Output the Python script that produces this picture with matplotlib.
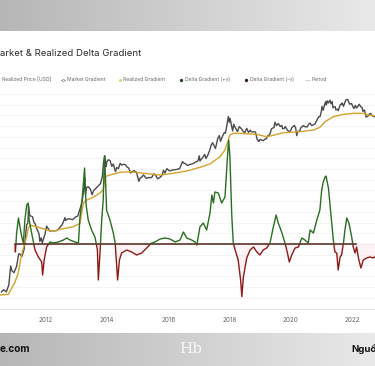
import numpy as np
import pandas as pd
import matplotlib
matplotlib.use("Agg")
import matplotlib.pyplot as plt
from matplotlib.patches import Rectangle
from matplotlib.colors import LinearSegmentedColormap

plt.rcParams['font.family'] = ['Inter', 'DejaVu Sans']

# ---------------- data ----------------
market_dates = [
    "2010-07-18", "2010-08-15", "2010-09-15", "2010-10-15", "2010-11-06", "2010-11-20", "2010-12-15",
    "2011-01-15", "2011-02-10", "2011-03-01", "2011-03-20", "2011-04-15", "2011-05-01", "2011-05-15", "2011-05-30",
    "2011-06-08", "2011-06-20", "2011-07-10", "2011-07-25", "2011-08-10", "2011-08-25", "2011-09-10", "2011-09-25",
    "2011-10-10", "2011-10-20", "2011-11-05", "2011-11-18", "2011-12-05", "2011-12-20",
    "2012-01-08", "2012-01-25", "2012-02-15", "2012-03-15", "2012-04-15", "2012-05-15", "2012-06-15", "2012-07-15",
    "2012-08-15", "2012-08-20", "2012-09-15", "2012-10-15", "2012-11-15", "2012-12-15",
    "2013-01-15", "2013-02-01", "2013-02-20", "2013-03-10", "2013-03-25", "2013-04-09", "2013-04-16", "2013-05-01",
    "2013-05-20", "2013-06-15", "2013-07-05", "2013-07-25", "2013-08-15", "2013-09-15", "2013-10-15", "2013-11-05",
    "2013-11-18", "2013-12-04", "2013-12-18", "2013-12-28",
    "2014-01-15", "2014-02-05", "2014-02-25", "2014-03-15", "2014-04-10", "2014-04-25", "2014-05-15", "2014-06-05",
    "2014-06-25", "2014-07-15", "2014-08-10", "2014-08-25", "2014-09-15", "2014-10-05", "2014-10-25", "2014-11-15",
    "2014-12-15",
    "2015-01-14", "2015-01-30", "2015-02-15", "2015-03-10", "2015-03-30", "2015-04-15", "2015-05-15", "2015-06-15",
    "2015-07-12", "2015-07-30", "2015-08-25", "2015-09-15", "2015-10-15", "2015-11-04", "2015-11-20", "2015-12-15",
    "2016-01-15", "2016-02-15", "2016-03-15", "2016-04-15", "2016-05-15", "2016-06-17", "2016-07-01", "2016-07-15",
    "2016-08-15", "2016-09-15", "2016-10-15", "2016-11-15", "2016-12-15", "2016-12-31",
    "2017-01-05", "2017-01-12", "2017-02-15", "2017-03-10", "2017-03-25", "2017-04-15", "2017-05-10", "2017-05-25",
    "2017-06-12", "2017-06-25", "2017-07-16", "2017-07-30", "2017-08-15", "2017-09-01", "2017-09-15", "2017-10-10",
    "2017-10-30", "2017-11-12", "2017-11-28", "2017-12-17", "2017-12-30",
    "2018-01-06", "2018-01-20", "2018-02-06", "2018-02-20", "2018-03-10", "2018-03-30", "2018-04-06", "2018-04-25",
    "2018-05-15", "2018-06-10", "2018-06-28", "2018-07-25", "2018-08-14", "2018-09-05", "2018-09-15", "2018-10-15",
    "2018-11-05", "2018-11-25", "2018-12-15", "2018-12-31",
    "2019-01-15", "2019-02-07", "2019-02-25", "2019-03-15", "2019-04-05", "2019-04-25", "2019-05-15", "2019-05-30",
    "2019-06-15", "2019-06-26", "2019-07-15", "2019-08-05", "2019-08-28", "2019-09-15", "2019-09-26", "2019-10-15",
    "2019-10-26", "2019-11-25", "2019-12-17", "2019-12-31",
    "2020-01-15", "2020-02-13", "2020-02-28", "2020-03-12", "2020-03-25", "2020-04-15", "2020-04-30", "2020-05-15",
    "2020-06-01", "2020-06-15", "2020-07-15", "2020-08-05", "2020-08-17", "2020-09-05", "2020-09-25", "2020-10-15",
    "2020-10-30", "2020-11-15", "2020-11-30", "2020-12-15", "2020-12-31",
    "2021-01-08", "2021-01-22", "2021-02-08", "2021-02-21", "2021-02-28", "2021-03-13", "2021-03-25", "2021-04-14",
    "2021-04-25", "2021-05-10", "2021-05-19", "2021-06-15", "2021-06-22", "2021-07-10", "2021-07-20", "2021-08-15",
    "2021-08-30", "2021-09-06", "2021-09-21", "2021-10-20", "2021-11-09", "2021-11-20", "2021-12-04", "2021-12-27",
    "2022-01-10", "2022-01-24", "2022-02-10", "2022-02-24", "2022-03-28", "2022-04-15", "2022-04-30", "2022-05-12",
    "2022-05-30", "2022-06-18", "2022-06-30", "2022-07-15", "2022-07-30", "2022-08-14", "2022-08-25", "2022-09-15",
    "2022-09-30", "2022-10-10",
]
market_price = [
    0.06, 0.07, 0.06, 0.10, 0.39, 0.28, 0.24,
    0.38, 0.95, 0.90, 0.78, 1.3, 3.3, 7.5, 8.9,
    29.6, 15.5, 14.2, 13.8, 9.2, 8.3, 6.0, 5.0,
    4.0, 2.3, 3.0, 2.1, 2.9, 3.9,
    7.0, 6.0, 4.9, 5.0, 5.0, 5.1, 6.4, 8.0,
    13.0, 10.5, 11.8, 11.8, 11.2, 13.4,
    14.5, 20.5, 29, 46, 88, 230, 68, 116,
    122, 100, 68, 94, 105, 127, 156, 260,
    700, 1150, 520, 740,
    860, 800, 530, 630, 360, 490, 450, 660,
    580, 620, 590, 505, 470, 330, 360, 390,
    350,
    180, 230, 240, 285, 245, 222, 237, 235,
    310, 285, 215, 230, 270, 400, 325, 450,
    380, 405, 415, 428, 455, 750, 670, 660,
    570, 608, 640, 710, 780, 960,
    1130, 780, 1010, 1250, 940, 1180, 1750, 2400,
    2950, 2500, 1930, 2750, 4200, 4900, 3250, 4800,
    6150, 5850, 9800, 19500, 13000,
    17200, 11500, 6900, 11200, 8800, 6900, 6600, 9400,
    8500, 6800, 5900, 8300, 6200, 7300, 6500, 6450,
    6400, 3800, 3200, 3740,
    3600, 3400, 3800, 3900, 4950, 5300, 8000, 8500,
    8800, 12900, 10200, 11800, 9500, 10300, 8100, 8300,
    9500, 7100, 6600, 7200,
    8800, 10300, 8600, 4900, 6700, 6800, 8700, 9400,
    10200, 9400, 9200, 11600, 12200, 10200, 10700, 11500,
    13600, 16000, 19400, 19400, 29000,
    40500, 31000, 46000, 57500, 45000, 61000, 52000, 64000,
    49000, 58000, 37000, 40000, 31500, 33500, 29800, 47000,
    47000, 52000, 41000, 65000, 68000, 58000, 48000, 50500,
    40500, 35000, 44000, 36000, 47500, 40000, 38000, 28500,
    31500, 18900, 19500, 20800, 24000, 24300, 21300, 19700,
    19400, 19200,
]

realized_years = [
    2010.50, 2010.77, 2010.88, 2010.99, 2011.09, 2011.17, 2011.24, 2011.31, 2011.37, 2011.42,
    2011.48, 2011.58, 2011.70, 2011.86, 2012.02, 2012.13, 2012.29, 2012.46, 2012.68, 2012.89,
    2013.11, 2013.22, 2013.33, 2013.56, 2013.76, 2013.87, 2013.93, 2014.09, 2014.42, 2014.75,
    2015.40, 2015.73, 2016.16, 2016.60, 2017.03, 2017.36, 2017.69, 2017.85, 2017.96, 2018.01,
    2018.12, 2018.34, 2018.89, 2019.10, 2019.21, 2019.43, 2019.75, 2020.30, 2020.74, 2020.95,
    2021.12, 2021.39, 2021.72, 2022.05, 2022.37, 2022.53, 2022.70, 2022.78,
]
realized_price = [
    0.048, 0.050, 0.078, 0.125, 0.23, 0.60, 1.24, 2.02, 3.26, 5.98,
    7.6, 7.1, 6.7, 6.0, 5.3, 5.0, 5.0, 5.6, 6.1, 6.7,
    8.6, 37, 46, 58, 77, 96, 251, 284, 345, 360,
    305, 283, 321, 379, 495, 630, 1070, 1740, 3580, 5150,
    5800, 5800, 5380, 4800, 4540, 5040, 6040, 6530, 7380, 8970,
    13450, 19300, 23000, 24700, 24700, 21900, 20800, 20600,
]

delta_years = [
    2010.99, 2011.00, 2011.04, 2011.10, 2011.15, 2011.21, 2011.26, 2011.31, 2011.37, 2011.42,
    2011.45, 2011.53, 2011.64, 2011.75, 2011.86, 2011.89, 2011.94, 2012.02, 2012.13, 2012.24,
    2012.40, 2012.57, 2012.68, 2012.78, 2012.95, 2013.06, 2013.11, 2013.18, 2013.26, 2013.31,
    2013.38, 2013.49, 2013.60, 2013.68, 2013.71, 2013.77, 2013.82, 2013.87, 2013.91, 2013.94,
    2013.98, 2014.09, 2014.20, 2014.26, 2014.31, 2014.34, 2014.40, 2014.47, 2014.64, 2014.80,
    2014.96, 2015.13, 2015.29, 2015.45, 2015.56, 2015.73, 2015.89, 2016.05, 2016.22, 2016.38,
    2016.49, 2016.60, 2016.76, 2016.87, 2016.93, 2017.03, 2017.14, 2017.25, 2017.36, 2017.42,
    2017.47, 2017.52, 2017.63, 2017.74, 2017.85, 2017.93, 2017.97, 2018.01, 2018.07, 2018.12,
    2018.18, 2018.28, 2018.36, 2018.40, 2018.45, 2018.56, 2018.67, 2018.78, 2018.89, 2018.99,
    2019.10, 2019.21, 2019.32, 2019.43, 2019.52, 2019.59, 2019.70, 2019.81, 2019.89, 2019.95,
    2020.03, 2020.14, 2020.25, 2020.36, 2020.46, 2020.57, 2020.63, 2020.74, 2020.85, 2020.95,
    2021.01, 2021.06, 2021.12, 2021.15, 2021.23, 2021.28, 2021.34, 2021.39, 2021.44, 2021.50,
    2021.55, 2021.61, 2021.66, 2021.72, 2021.77, 2021.83, 2021.90, 2021.99, 2022.04, 2022.10,
    2022.15, 2022.21, 2022.29, 2022.37, 2022.48, 2022.59, 2022.70, 2022.78,
]
delta_value = [
    -0.15, -0.85, 1.05, 2.55, 1.65, 0.65, 0.05, 2.35, 3.85, 4.05,
    2.35, 1.05, -0.65, -1.35, -1.85, -3.15, -1.65, -0.35, 0.15, 0.05,
    0.15, 0.35, 0.55, 0.35, 0.15, 0.05, 2.65, 4.35, 7.55, 3.85,
    2.35, 1.35, 0.65, -0.65, -3.65, -0.65, 2.35, 4.35, 8.75, 6.85,
    3.35, 2.35, 1.05, 0.05, -2.35, -3.65, -1.65, -0.95, -0.65, -0.85,
    -1.15, -0.95, -0.45, 0.05, 0.15, 0.45, 0.55, 0.45, 0.15, 0.35,
    1.15, 0.55, 0.35, 0.15, -0.15, 1.65, 2.05, 1.35, 3.05, 4.85,
    4.05, 5.15, 5.05, 4.05, 4.65, 8.65, 10.35, 8.65, 2.85, 0.05,
    -0.65, -1.65, -3.65, -5.32, -3.35, -1.45, -0.65, -0.35, -0.85, -1.15,
    -0.65, -0.45, 0.05, 1.65, 2.85, 2.05, 1.15, 0.05, -0.95, -1.85,
    -1.15, -0.45, -0.35, 0.55, 0.35, 0.05, 1.35, 1.05, 2.35, 3.35,
    5.35, 6.15, 6.65, 6.75, 5.55, 3.95, 2.05, 0.35, -0.85, -0.95,
    -2.65, -1.35, -1.15, 0.05, 1.35, 2.55, 2.05, 0.65, -0.35, -0.95,
    -0.35, -1.45, -2.45, -1.65, -1.45, -1.35, -1.45, -1.25,
]

period_years = [2010.99, 2022.13]
period_value = [0, 0]

year_ticks = [2012, 2014, 2016, 2018, 2020, 2022]

title_text = "arket & Realized Delta Gradient"
legend_labels = ["Realized Price [USD]", "Market Gradient", "Realized Gradient",
                 "Delta Gradient (+v)", "Delta Gradient (-v)", "Period"]

# ---------------- figure ----------------
W, H = 375, 366
fig = plt.figure(figsize=(W / 100, H / 100), dpi=100)

# background layer in pixel coordinates
bg = fig.add_axes([0, 0, 1, 1])
bg.axis("off")
grad = np.linspace(0, 1, 256)[None, :]
cm = LinearSegmentedColormap.from_list("band", ["#b6b6b6", "#e9e9e9"])
bg.imshow(grad, extent=(0, W, 31, 0), cmap=cm, aspect="auto", zorder=0)
bg.imshow(grad, extent=(0, W, H, 333), cmap=cm, aspect="auto", zorder=0)
bg.set_xlim(0, W)
bg.set_ylim(H, 0)
for gy in np.linspace(94, 297.5, 20):
    bg.axhline(gy, color="#f3f3f3", lw=0.6, zorder=1)
bg.axhline(308.5, color="#e4e4e4", lw=0.7, zorder=1)

# title (left part is cropped in the reference)
bg.text(0, 56.5, title_text, fontsize=6.9, color="#2a2a2a",
        ha="left", va="baseline")

# legend row
ly = 79.5
lfs = 3.6
lc = "#666666"
bg.text(1.5, ly, legend_labels[0], fontsize=lfs, color=lc, va="center", ha="left")
bg.plot([61, 65], [ly, ly], color="#9a9a9a", lw=0.6)
bg.plot([63], [ly], marker="o", ms=1.6, mfc="white", mec="#8a8a8a", mew=0.5)
bg.text(67, ly, legend_labels[1], fontsize=lfs, color=lc, va="center", ha="left")
bg.plot([120], [ly], marker="o", ms=2.0, color="#d9cf5a", mec="none")
bg.text(123, ly, legend_labels[2], fontsize=lfs, color=lc, va="center", ha="left")
bg.plot([181], [ly], marker="o", ms=2.4, color="#1d4a1d", mec="none")
bg.text(185, ly, legend_labels[3], fontsize=lfs, color=lc, va="center", ha="left")
bg.plot([245.5], [ly], marker="o", ms=2.4, color="#3a1510", mec="none")
bg.text(250, ly, legend_labels[4], fontsize=lfs, color=lc, va="center", ha="left")
bg.plot([305, 310], [ly, ly], color="#aaaaaa", lw=0.6, ls=(0, (1.5, 1)))
bg.text(312, ly, legend_labels[5], fontsize=lfs, color=lc, va="center", ha="left")

# footer
bg.text(0, 349.5, "e.com", fontsize=7.2, fontweight="bold", color="#111111", va="center", ha="left")
bg.text(351, 349.5, "Nguồ", fontsize=6.9, fontweight="bold", color="#111111", va="center", ha="left")
bg.text(190.5, 349, "Hb", fontsize=11, color="white", family="DejaVu Serif", va="center", ha="center",
        alpha=0.85)

# main price axes (log)
top_px, bot_px = 88, 310
ax = fig.add_axes([0, (H - bot_px) / H, 1, (bot_px - top_px) / H])
ax.patch.set_visible(False)
x0 = 2012 - 46 / 30.6
x1 = 2012 + (W - 46) / 30.6


def to_year(ds):
    d = pd.to_datetime(pd.Series(ds))
    return (d.dt.year + (d.dt.dayofyear - 1) / 365.25).to_numpy()


my = to_year(market_dates)
ax.set_yscale("log")
ax.plot(my, market_price, color="#4b4b4b", lw=1.0, zorder=3)
ax.plot(realized_years, realized_price, color="#d3a329", lw=1.0, zorder=3)

ppd = 31.8
lo = 10 ** (3.06 - (bot_px - 155.7) / ppd)
hi = 10 ** (3.06 + (155.7 - top_px) / ppd)
ax.set_ylim(lo, hi)
ax.set_xlim(x0, x1)
ax.set_yticks([])
ax.set_yticks([], minor=True)
for s in ax.spines.values():
    s.set_visible(False)
ax.set_xticks(year_ticks)
ax.set_xticklabels([str(y) for y in year_ticks], fontsize=4.6, color="#666666")
ax.tick_params(axis="x", length=0, pad=5)

# delta axes (linear)
ax2 = ax.twinx()
ax2.patch.set_visible(False)
for s in ax2.spines.values():
    s.set_visible(False)
ax2.set_yticks([])
dlo = (243.5 - bot_px) / 10
dhi = (243.5 - top_px) / 10
ax2.set_ylim(dlo, dhi)
ax2.set_xlim(x0, x1)

dy = np.array(delta_years)
dv = np.array(delta_value)
ax2.fill_between(dy, dv, 0, where=dv < 0, interpolate=True, color="#f7c6d3", alpha=0.22, lw=0)
ax2.plot(period_years, period_value, color="#4e2418", lw=1.1, zorder=2)
lp, = ax2.plot(dy, dv, color="#2a6e22", lw=1.0, zorder=3)
ln, = ax2.plot(dy, dv, color="#8e1a16", lw=1.0, zorder=3)
rp = Rectangle((x0 - 1, 0), x1 - x0 + 2, dhi + 5, transform=ax2.transData)
rn = Rectangle((x0 - 1, dlo - 5), x1 - x0 + 2, -dlo + 5, transform=ax2.transData)
lp.set_clip_path(rp)
ln.set_clip_path(rn)

fig.savefig("out.png", dpi=100)
